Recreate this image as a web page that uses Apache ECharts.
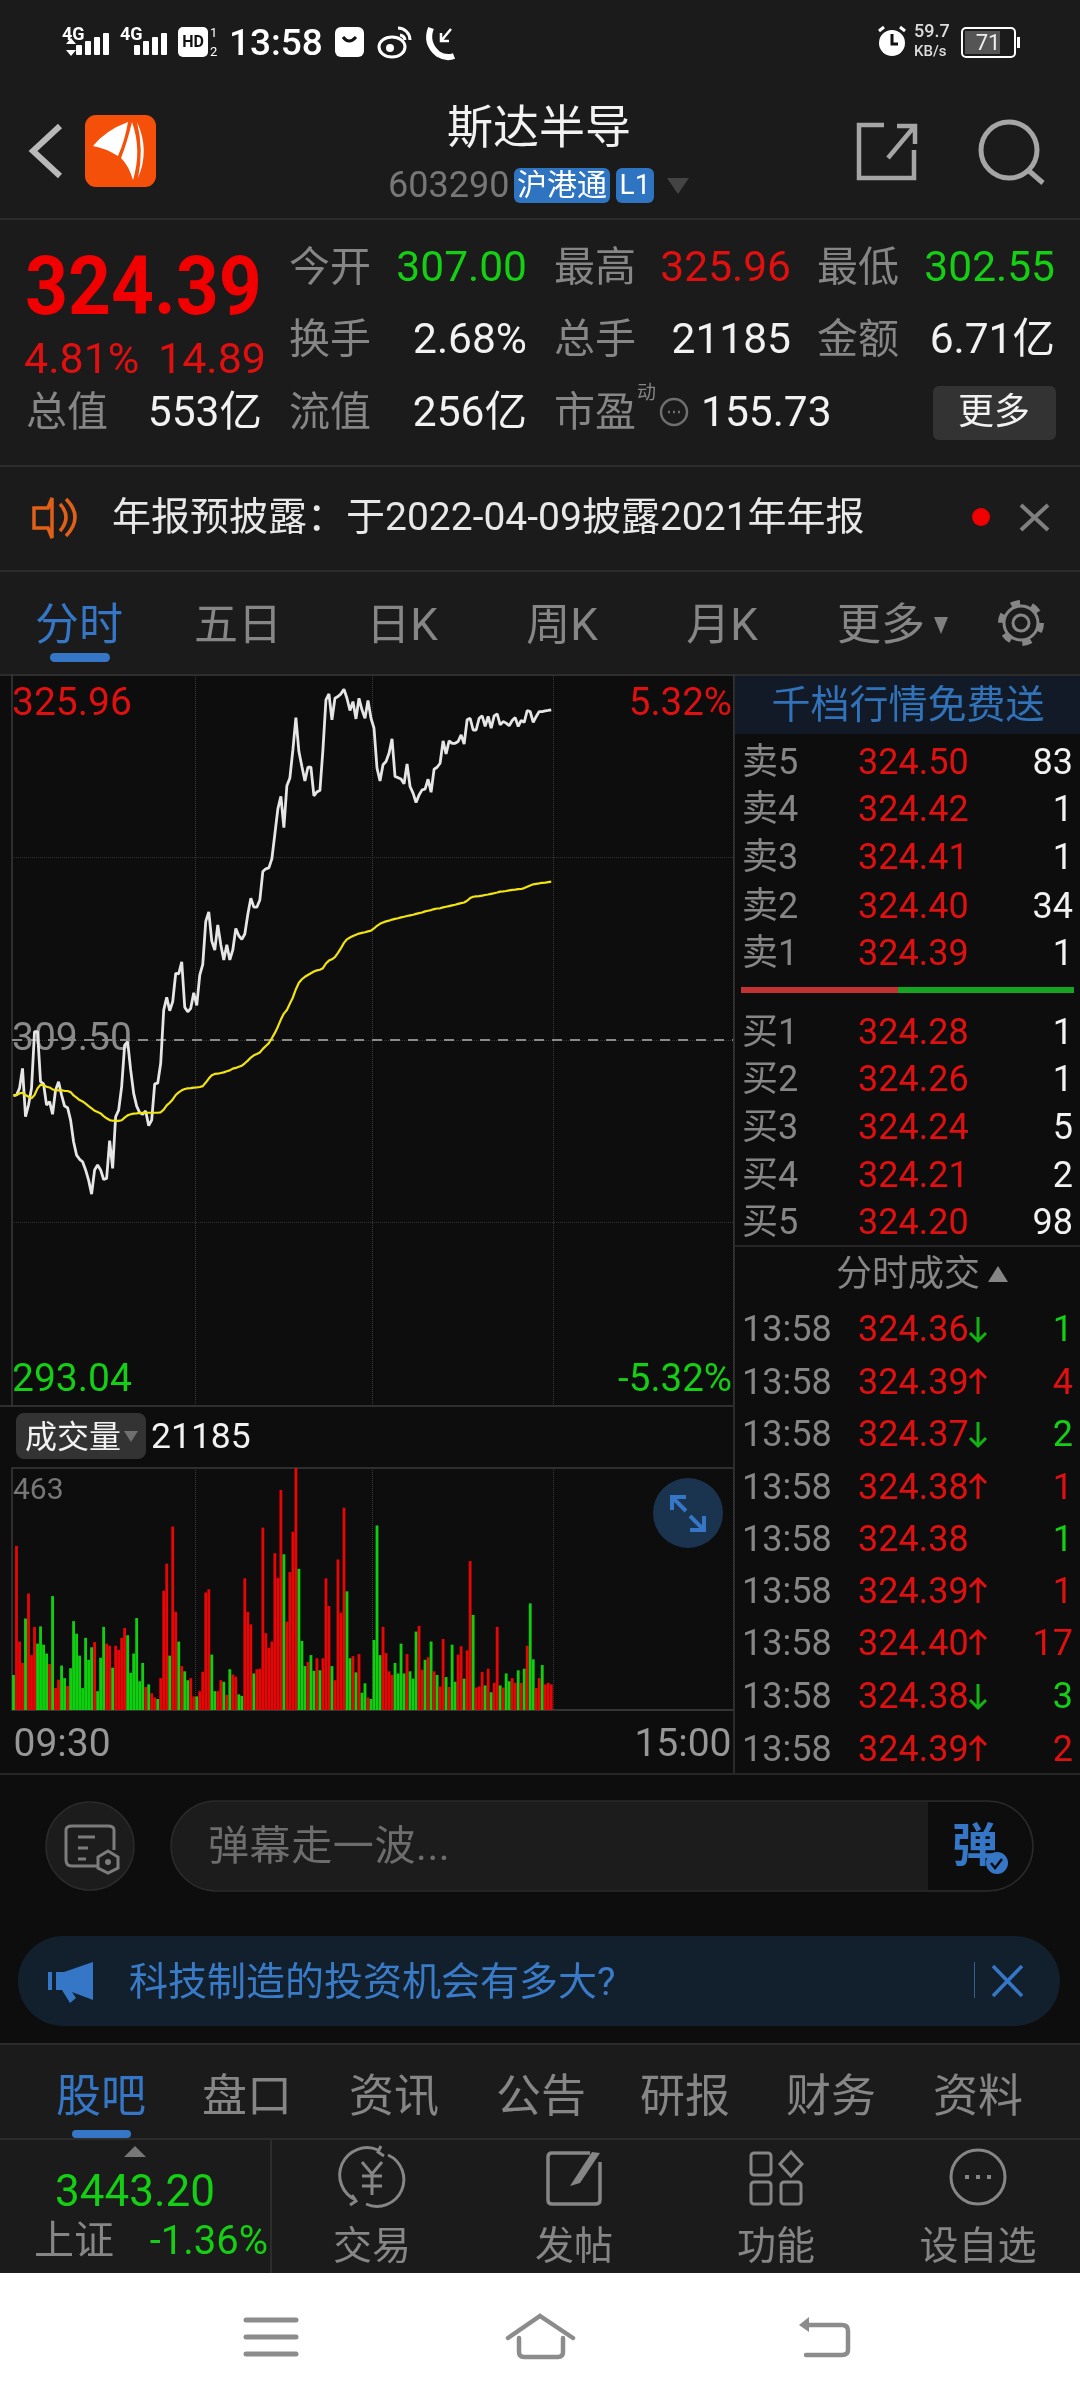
<!DOCTYPE html>
<html><head><meta charset="utf-8">
<script src="https://cdn.jsdelivr.net/npm/echarts@6/dist/echarts.min.js"></script>
<style>
html,body{margin:0;padding:0;background:#0d0d0d;}
#page{position:relative;width:1080px;height:2400px;overflow:hidden;background:#0d0d0d;font-family:Roboto,"Noto Sans CJK SC",sans-serif;}
.b{position:absolute;}
.t{position:absolute;white-space:nowrap;line-height:1;z-index:5;}
#chart{position:absolute;left:0;top:0;width:1080px;height:2400px;z-index:2;}
#ic{position:absolute;left:0;top:0;width:1080px;height:2400px;z-index:3;}
</style></head><body><div id="page">
<div id="chart"></div>
<svg id="ic" viewBox="0 0 1080 2400"></svg>
</div>
<script>
// ---- chart data ----
const priceAxisTicks = [293.04, 301.27, 309.50, 317.73, 325.96];
const priceLabels = [293.04, 309.50, 325.96];
const pctLabels = [-5.32, 5.32];
const prevClose = 309.50;
const volumeMax = 463;
const timeLabels = ['09:30', '15:00'];
const sessionMinutes = 240;

const price = [
306.99,307.02,307.32,308.22,306.04,306.57,307.32,309.88,309.88,307.62,
307.52,306.57,306.72,306.15,307.24,307.62,307.02,306.52,306.45,305.89,
304.91,304.31,304.12,304.01,303.64,303.18,302.55,303.64,303.86,303.64,
303.21,303.26,304.96,303.71,306.04,306.34,307.39,309.27,309.42,308.15,
307.09,306.52,306.22,306.15,306.30,305.64,305.89,307.52,307.55,308.45,
310.85,311.42,310.82,311.23,312.51,312.48,313.03,310.98,310.77,310.93,
311.63,311.06,312.43,312.91,314.85,315.28,313.96,313.56,314.69,313.80,
313.11,313.80,313.11,313.56,314.53,314.20,314.04,314.28,315.17,315.89,
315.49,315.49,315.81,317.10,317.22,317.26,317.67,318.79,319.92,320.49,
319.08,320.97,321.32,322.58,324.04,322.51,321.83,321.18,321.80,321.80,
320.51,320.69,320.75,322.58,324.84,325.11,323.94,324.91,324.99,325.11,
325.32,324.91,324.36,324.76,323.98,324.91,324.39,324.01,324.81,324.01,
323.56,321.76,321.18,321.91,322.06,322.43,323.08,321.38,321.33,321.27,
321.05,321.95,320.93,320.63,320.21,320.55,320.78,320.81,321.26,320.67,
321.71,321.80,321.98,322.99,322.40,322.99,322.88,322.88,322.96,323.26,
322.85,323.94,324.01,323.48,323.48,324.01,324.12,323.64,324.09,323.56,
324.12,324.21,323.71,323.86,323.79,323.67,323.91,324.04,323.64,323.91,
323.82,324.36,324.31,323.82,324.09,324.31,324.31,324.34,324.36,324.39];

const avgPrice = [
306.99,307.02,307.09,307.12,307.02,306.94,306.87,307.02,307.32,307.48,
307.47,307.39,307.36,307.27,307.24,307.23,307.23,307.21,307.20,307.15,
307.00,306.90,306.79,306.73,306.63,306.52,306.42,306.31,306.25,306.19,
306.07,305.97,305.89,305.86,305.85,305.85,305.88,306.00,306.10,306.15,
306.18,306.19,306.21,306.21,306.22,306.22,306.22,306.22,306.22,306.24,
306.36,306.55,306.67,306.82,307.02,307.14,307.23,307.29,307.32,307.33,
307.35,307.36,307.38,307.42,307.58,307.76,307.91,307.97,307.98,308.01,
308.04,308.09,308.13,308.21,308.24,308.29,308.34,308.45,308.57,308.71,
308.81,308.87,308.94,309.10,309.23,309.36,309.58,309.82,310.10,310.42,
310.69,310.85,311.14,311.42,311.79,312.08,312.24,312.35,312.43,312.51,
312.59,312.64,312.67,312.74,312.95,313.08,313.14,313.24,313.43,313.64,
313.88,314.04,314.12,314.19,314.25,314.30,314.33,314.36,314.40,314.43,
314.53,314.65,314.74,314.80,314.85,314.88,314.93,314.96,314.99,315.03,
315.06,315.09,315.12,315.15,315.19,315.22,315.25,315.30,315.33,315.36,
315.40,315.43,315.44,315.48,315.51,315.54,315.57,315.60,315.64,315.67,
315.70,315.78,315.90,315.96,315.98,315.99,316.01,316.04,316.06,316.09,
316.12,316.15,316.19,316.20,316.22,316.25,316.27,316.28,316.30,316.31,
316.35,316.41,316.47,316.52,316.54,316.56,316.59,316.60,316.62,316.64];

const volume = [
67,314,131,90,175,223,105,159,127,160,
125,108,88,218,42,58,85,61,46,80,
170,146,104,42,138,96,120,130,36,100,
159,127,123,81,123,115,138,157,143,71,
108,176,55,90,44,49,32,24,21,61,
228,280,104,351,188,131,84,74,57,61,
26,26,36,73,225,231,106,36,36,57,
54,29,78,68,64,30,27,252,188,164,
70,78,79,349,147,119,131,300,253,421,
298,169,264,341,463,270,132,84,92,105,
75,99,76,99,252,199,84,57,288,186,
387,227,99,103,72,107,33,51,24,21,
134,353,105,159,109,74,67,90,70,127,
70,107,74,60,150,161,77,96,101,131,
74,67,45,136,63,44,125,54,106,122,
60,114,285,182,43,45,73,47,79,34,
52,159,47,43,70,55,61,52,76,52,
79,123,204,97,42,61,86,49,52,49];

const volumeSide = [
'g','r','r','r','g','r','r','r','g','g',
'g','g','r','g','r','r','g','g','r','g',
'g','g','g','g','g','g','g','r','g','g',
'g','r','r','g','r','r','r','r','g','g',
'g','g','g','g','r','g','r','r','g','r',
'r','r','g','r','r','g','r','g','g','r',
'r','g','r','r','r','r','g','g','r','r',
'g','r','g','r','r','g','g','r','r','r',
'g','r','r','r','r','r','r','r','r','r',
'g','r','r','r','r','g','g','g','r','g',
'g','r','g','r','r','r','g','r','r','r',
'r','g','g','r','g','r','g','g','r','g',
'g','g','g','r','r','r','r','g','g','g',
'g','r','g','g','g','r','r','g','r','g',
'r','g','r','r','g','r','g','g','r','r',
'g','r','r','g','r','r','r','g','r','g',
'r','r','g','r','g','g','r','r','g','r',
'g','r','g','g','r','r','g','r','r','r'];

// ---- order book and tape ----
const askRows = [['卖5','324.50','83'],['卖4','324.42','1'],['卖3','324.41','1'],['卖2','324.40','34'],['卖1','324.39','1']];
const bidRows = [['买1','324.28','1'],['买2','324.26','1'],['买3','324.24','5'],['买4','324.21','2'],['买5','324.20','98']];
const tapeRows = [['324.36','d','1','g'],['324.39','u','4','r'],['324.37','d','2','g'],['324.38','u','1','r'],['324.38','','1','g'],['324.39','u','1','r'],['324.40','u','17','r'],['324.38','d','3','g'],['324.39','u','2','r']];

const RED='#e01010', GREEN='#14cf14', GREY='#868686', WHITE='#f2f2f2', BLUE='#3577c6';
const page=document.getElementById('page');
function box(x,y,w,h,bg,r,z){const d=document.createElement('div');d.className='b';d.style.cssText=`left:${x}px;top:${y}px;width:${w}px;height:${h}px;background:${bg};border-radius:${r||0}px;z-index:${z||1}`;page.appendChild(d);}
function txt(x,y,s,size,color,anchor,extra){const d=document.createElement('div');d.className='t';d.textContent=s;
 let st=`top:${y}px;font-size:${size}px;color:${color};`;
 if(anchor==='r')st+=`right:${1080-x}px;transform:translateY(-50%);`;
 else if(anchor==='c')st+=`left:${x}px;transform:translate(-50%,-50%);`;
 else st+=`left:${x}px;transform:translateY(-50%);`;
 d.style.cssText=st+(extra||'');page.appendChild(d);}

// backgrounds
box(0,0,1080,674,'#1b1b1b');
box(0,2043,1080,230,'#1b1b1b');
box(0,2273,1080,127,'#ffffff');
box(735,675,345,59,'#111a26');
[218,465,570,674].forEach(y=>box(0,y,1080,2,'#2c2c2c'));
[2043,2138].forEach(y=>box(0,y,1080,2,'#2c2c2c'));
box(0,1773,1080,2,'#262626');
box(733,675,2,1098,'#2a2a2a');
box(0,1405,733,2,'#2e2e2e');
box(735,1245,345,2,'#262626');
box(270,2138,2,135,'#2c2c2c');
box(16,1413,130,46,'#333333',8);
box(933,386,123,54,'#333333',6);
box(514,168,96,35,'#2f74c0',6);
box(616,168,38,35,'#2f74c0',6);
box(50,653,60,9,BLUE,5);
box(72,2130,59,8,BLUE,4);
box(741,987,157,6,'#c23232');
box(898,987,176,6,'#16a520');
box(18,1936,1042,90,'#12202e',45);
box(974,1962,1,36,'#33628f');

// status bar
txt(229,42,'13:58',37,'#fff','l','font-weight:500;');
txt(62,34,'4G',18,'#fff','l','font-weight:700;');
txt(120,34,'4G',18,'#fff','l','font-weight:700;');
txt(914,31,'59.7',18,'#ddd','l','font-weight:500;');
txt(914,51,'KB/s',15,'#ddd','l','font-weight:500;');
txt(988,43,'71',22,'#eee','c');
// header
txt(539,127,'斯达半导',46,'#f2f2f2','c');
txt(388,185,'603290',36,'#777','l');
txt(562,185,'沪港通',30,'#fff','c');
txt(635,185,'L1',28,'#fff','c');
// quote
txt(25,286,'324.39',75,'#f00000','l','font-weight:700;transform:translateY(-50%) scaleY(1.08);');
txt(24,358,'4.81%',43,RED,'l');txt(158,358,'14.89',43,RED,'l');
const cols=[289,554,817],rightCols=[527,791,1055];
[['今开','307.00',GREEN],['最高','325.96',RED],['最低','302.55',GREEN]].forEach((c,i)=>{txt(cols[i],267,c[0],41,GREY);txt(rightCols[i],267,c[1],42.5,c[2],'r');});
[['换手','2.68%',WHITE],['总手','21185',WHITE],['金额','6.71亿',WHITE]].forEach((c,i)=>{txt(cols[i],339,c[0],41,GREY);txt(rightCols[i],339,c[1],42.5,c[2],'r');});
txt(26,412,'总值',41,GREY);txt(262,412,'553亿',42.5,WHITE,'r');
txt(289,412,'流值',41,GREY);txt(527,412,'256亿',42.5,WHITE,'r');
txt(554,412,'市盈',41,GREY);txt(637,392,'动',19,GREY);txt(701,412,'155.73',42.5,WHITE);
txt(994,412,'更多',36,WHITE,'c');
// notice
txt(112,517,'年报预披露：于2022-04-09披露2021年年报',39,'#e8e8e8');
// tabs
[['分时',79,BLUE],['五日',238,GREY],['日K',402,GREY],['周K',562,GREY],['月K',722,GREY],['更多',881,GREY]].forEach(c=>txt(c[1],625,c[0],44,c[2],'c'));
// order book
txt(908,705,'千档行情免费送',39,'#3272b8','c');
const askY=[762,809,857,906,953],bidY=[1032,1079,1127,1175,1222];
function bookRow(r,y){txt(742,y,r[0],36,GREY);txt(858,y,r[1],36,RED);txt(1073,y,r[2],36,WHITE,'r');}
askRows.forEach((r,i)=>bookRow(r,askY[i]));
bidRows.forEach((r,i)=>bookRow(r,bidY[i]));
txt(908,1274,'分时成交',36,GREY,'c');
const tapeY=[1329,1382,1434,1487,1539,1591,1643,1696,1749];
tapeRows.forEach((r,i)=>{txt(742,tapeY[i],'13:58',36,GREY);txt(858,tapeY[i],r[0],36,RED);txt(1073,tapeY[i],r[2],36,r[3]==='r'?RED:GREEN,'r');});
// volume header
txt(25,1437,'成交量',32,'#f2f2f2');
txt(151,1437,'21185',35.5,'#f2f2f2');
// danmu, banner
txt(208,1846,'弹幕走一波...',41,'#6d6d6d','l','letter-spacing:0.6px;');
txt(975,1845,'弹',46,BLUE,'c','font-weight:700;');
txt(129,1982,'科技制造的投资机会有多大?',39,'#3a7bc8');
// bottom tabs
[['股吧',101,BLUE],['盘口',247,GREY],['资讯',394,GREY],['公告',541,GREY],['研报',685,GREY],['财务',831,GREY],['资料',978,GREY]].forEach(c=>txt(c[1],2096,c[0],45,c[2],'c'));
txt(135,2191,'3443.20',44,GREEN,'c');
txt(34,2241,'上证',40,GREY);
txt(268,2241,'-1.36%',40,GREEN,'r');
[['交易',372],['发帖',574],['功能',776],['设自选',978]].forEach(c=>txt(c[1],2246,c[0],39,GREY,'c'));

// icons
const bars=(x,y)=>[10,14,18,22].map((h,i)=>`<rect x="${x+i*9}" y="${y-h}" width="6" height="${h}" rx="1" fill="#fff"/>`).join('');
const arrows=tapeRows.map((r,i)=>{const y=tapeY[i],x=978;
 if(r[1]==='u')return `<path d="M${x} ${y+12}V${y-12}M${x-8} ${y-4}L${x} ${y-12}L${x+8} ${y-4}" stroke="${RED}" stroke-width="3" fill="none"/>`;
 if(r[1]==='d')return `<path d="M${x} ${y-12}V${y+12}M${x-8} ${y+4}L${x} ${y+12}L${x+8} ${y+4}" stroke="#12b312" stroke-width="3" fill="none"/>`;
 return '';}).join('');
document.getElementById('ic').innerHTML=`
${bars(76,55)}${bars(134,55)}
<path d="M66 44l5-6 5 6zM66 50l5 6 5-6z" fill="#fff"/>
<rect x="178" y="27" width="30" height="30" rx="5" fill="#fff"/><text x="193" y="47" font-size="16" font-weight="700" text-anchor="middle" fill="#111" font-family="Roboto">HD</text>
<text x="210" y="37" font-size="13" fill="#fff" font-family="Roboto">1</text><text x="210" y="56" font-size="13" fill="#fff" font-family="Roboto">2</text>
<rect x="335" y="27" width="29" height="30" rx="6" fill="#fff"/><path d="M343 37q6 8 13 0" stroke="#111" stroke-width="3" fill="none"/>
<ellipse cx="392" cy="47" rx="13" ry="10" fill="none" stroke="#fff" stroke-width="3"/><circle cx="390" cy="48" r="4" fill="#fff"/><path d="M398 28a12 12 0 0 1 12 12M400 35a6 6 0 0 1 5 5" stroke="#fff" stroke-width="3" fill="none"/>
<path d="M431 28Q425 43 438 54Q446 59 454 56" stroke="#fff" stroke-width="6" fill="none"/><path d="M451 29L441 41M441 33V41H449" stroke="#fff" stroke-width="2.5" fill="none"/>
<circle cx="892" cy="43" r="13" fill="#fff"/><path d="M892 34v10h6" stroke="#111" stroke-width="3" fill="none"/><path d="M879 31l5-4M905 31l-5-4" stroke="#fff" stroke-width="3"/>
<rect x="962" y="28" width="53" height="29" rx="4" fill="none" stroke="#fff" stroke-width="2"/><rect x="965" y="31" width="35" height="23" fill="#555"/><rect x="1017" y="37" width="3" height="11" fill="#fff"/>
<path d="M60 126L33 151L60 176" stroke="#b9b9b9" stroke-width="6" fill="none"/>
<rect x="85" y="115" width="71" height="72" rx="11" fill="#f5500a"/>
<path d="M93 146Q106 130 128 122Q125 140 118 156Q105 148 93 146ZM132 122Q127 143 121 158Q129 166 133 180Q142 150 132 122ZM137 122Q150 150 138 178Q144 150 137 122Z" fill="#fff"/>
<path d="M884 125H859V178H914V150M888 158L914 127M897 126H915V144" stroke="#a5a5a5" stroke-width="4.5" fill="none"/>
<circle cx="1009" cy="150" r="28" stroke="#a5a5a5" stroke-width="5" fill="none"/><path d="M1028 170L1043 183" stroke="#a5a5a5" stroke-width="5"/>
<path d="M667 178H689L678 194Z" fill="#444"/>
<circle cx="674" cy="412" r="13" fill="none" stroke="#6f6f6f" stroke-width="2.5"/><path d="M668 412h2M673 412h2M678 412h2" stroke="#6f6f6f" stroke-width="2.5"/>
<path d="M48 508H34V528H48L52 538V498Z M60 504Q72 517 60 531M66 499Q84 517 66 536" stroke="#e0601a" stroke-width="3.5" fill="none"/>
<circle cx="981" cy="517" r="9" fill="#f00000"/>
<path d="M1021 505L1048 530M1048 505L1021 530" stroke="#808080" stroke-width="4"/>
<path d="M934 617H948L941 634Z" fill="#808080"/>
<circle cx="1021" cy="623" r="8" stroke="#868686" stroke-width="3" fill="none"/><circle cx="1021" cy="623" r="17" stroke="#868686" stroke-width="3" fill="none"/><circle cx="1021" cy="623" r="20" stroke="#868686" stroke-width="6" fill="none" stroke-dasharray="9 11.9"/>
<path d="M988 1282L998 1266L1008 1282Z" fill="#868686"/>
<path d="M124 1431H138L131 1442Z" fill="#707070"/>
<circle cx="688" cy="1513" r="35" fill="#1a334f"/>
<path d="M672 1510V1497H686M672 1497L686 1511M704 1516V1530H690M704 1530L690 1516" stroke="#3577c6" stroke-width="4" fill="none"/>
<circle cx="90" cy="1846" r="44" fill="#1c1c1c" stroke="#2a2a2a" stroke-width="1.5"/>
<path d="M102 1866H72Q66 1866 66 1860V1830Q66 1826 72 1826H108Q114 1826 114 1830V1850M78 1837H95M78 1848H88M78 1859H86" stroke="#7c7c7c" stroke-width="3" fill="none"/>
<path d="M108 1851L118 1857V1868L108 1873L98 1868V1857Z" stroke="#7c7c7c" stroke-width="3" fill="#1c1c1c"/><circle cx="108" cy="1862" r="3" fill="#7c7c7c"/>
<rect x="171" y="1801" width="862" height="90" rx="45" fill="#1c1c1c" stroke="#2a2a2a" stroke-width="1.5"/>
<path d="M928 1802H988a44 44 0 0 1 0 88H928Z" fill="#0d0d0d"/>
<circle cx="997" cy="1863" r="11" fill="${BLUE}"/><path d="M991 1863l4 5 7-9" stroke="#0d0d0d" stroke-width="2.5" fill="none"/>
<path d="M93 1962L64 1972H56V1990H62L70 2003L76 1998L72 1992L93 2000ZM48 1972H52V1990H48Z" fill="${BLUE}"/>
<path d="M993 1966L1022 1996M1022 1966L993 1996" stroke="${BLUE}" stroke-width="3.5"/>
<path d="M124 2157L135 2146L146 2157Z" fill="#777"/>
<path d="M378 2150A26 26 0 0 0 356 2200M366 2204A26 26 0 0 0 388 2155M381 2146L378 2152L384 2156M352 2195L356 2201L350 2205" stroke="#868686" stroke-width="3" fill="none"/>
<path d="M362 2162L372 2174L382 2162M362 2176H382M362 2186H382M372 2174V2195" stroke="#868686" stroke-width="3" fill="none"/>
<path d="M590 2153H552Q548 2153 548 2157V2200Q548 2204 552 2204H595Q600 2204 600 2200V2162" stroke="#868686" stroke-width="3.5" fill="none"/>
<path d="M570 2186L592 2152L600 2153L580 2183Z" fill="#868686"/>
<rect x="751" y="2153" width="20" height="22" rx="3" stroke="#868686" stroke-width="3" fill="none"/><rect x="751" y="2182" width="20" height="22" rx="3" stroke="#868686" stroke-width="3" fill="none"/><rect x="781" y="2182" width="20" height="22" rx="3" stroke="#868686" stroke-width="3" fill="none"/>
<path d="M791 2152L802 2164L791 2176L780 2164Z" stroke="#868686" stroke-width="3" fill="none"/>
<circle cx="978" cy="2177" r="27" stroke="#868686" stroke-width="3" fill="none"/><path d="M965 2177h4M976 2177h4M987 2177h4" stroke="#868686" stroke-width="4"/>
<path d="M246 2320H296M246 2337H296M246 2354H296" stroke="#8c8c8c" stroke-width="5" stroke-linecap="round"/>
<path d="M508 2338L540 2316L573 2338M519 2338V2352Q519 2357 524 2357H558Q563 2357 563 2352V2338" stroke="#8c8c8c" stroke-width="4.5" fill="none" stroke-linecap="round"/>
<path d="M808 2325H842Q848 2325 848 2331V2350Q848 2355 842 2355H806" stroke="#8c8c8c" stroke-width="4.5" fill="none" stroke-linecap="round"/><path d="M809 2317V2332L799 2325Z" fill="#8c8c8c"/>
${arrows}`;

// ---- the chart ----
const cats=Array.from({length:sessionMinutes},(_,i)=>i);
const volData=volume.map((v,i)=>({value:v,itemStyle:{color:volumeSide[i]==='r'?'#e80505':'#0fd00f'}}));
const numFont='Roboto';
const chart=echarts.init(document.getElementById('chart'),null,{renderer:'canvas'});
const gridLines={show:true,interval:i=>i===61||i===120||i===180,lineStyle:{color:'#3a3a3a',type:'dotted',width:1}};
chart.setOption({
 animation:false,backgroundColor:'transparent',
 grid:[{left:12,right:347,top:675,height:730},{left:12,right:347,top:1468,height:242}],
 xAxis:[
  {type:'category',gridIndex:0,data:cats,boundaryGap:true,axisLine:{show:false},axisTick:{show:false},axisLabel:{show:false},splitLine:gridLines},
  {type:'category',gridIndex:1,data:cats,boundaryGap:true,axisLine:{show:true,lineStyle:{color:'#3a3a3a',width:1.5}},axisTick:{show:false},splitLine:gridLines,
   axisLabel:{show:true,interval:i=>i===0||i===sessionMinutes-1,formatter:(v,i)=>i===0?timeLabels[0]:timeLabels[1],color:'#979797',fontSize:39,fontFamily:numFont,margin:17,alignMinLabel:'left',alignMaxLabel:'right'}}
 ],
 yAxis:[
  {type:'value',gridIndex:0,position:'left',min:priceAxisTicks[0],max:priceAxisTicks[4],
   axisLine:{show:true,lineStyle:{color:'#3a3a3a',width:1.5}},axisTick:{show:false,customValues:priceAxisTicks},
   splitLine:{show:true,lineStyle:{color:'#333',type:'dotted',width:1}},
   axisLabel:{show:true,inside:true,customValues:priceLabels,margin:0,fontSize:39,fontFamily:numFont,lineHeight:48,padding:[6,0,0,0],verticalAlignMaxLabel:'top',verticalAlignMinLabel:'bottom',
    formatter:v=>Number(v).toFixed(2),color:v=>{v=+v;return v>prevClose?RED:v<prevClose?GREEN:'#8a8a8a';}}},
  {type:'value',gridIndex:0,position:'right',min:pctLabels[0],max:pctLabels[1],
   axisLine:{show:false},axisTick:{show:false,customValues:pctLabels},splitLine:{show:false},
   axisLabel:{show:true,inside:true,customValues:pctLabels,margin:1,fontSize:38.5,fontFamily:numFont,lineHeight:48,padding:[6,0,0,0],verticalAlignMaxLabel:'top',verticalAlignMinLabel:'bottom',
    formatter:v=>Number(v).toFixed(2)+'%',color:v=>(+v>0?RED:GREEN)}},
  {type:'value',gridIndex:1,min:0,max:volumeMax,
   axisLine:{show:true,lineStyle:{color:'#3a3a3a',width:1.5}},axisTick:{show:false,customValues:[0,volumeMax]},
   splitLine:{show:true,lineStyle:{color:'#3a3a3a',width:1.5}},
   axisLabel:{show:true,inside:true,customValues:[volumeMax],margin:1,fontSize:30,fontFamily:numFont,color:'#777',lineHeight:46,verticalAlignMinLabel:'top',verticalAlignMaxLabel:'top',formatter:v=>String(v)}}
 ],
 series:[
  {name:'price',type:'line',xAxisIndex:0,yAxisIndex:0,data:price,symbol:'none',lineStyle:{color:'#e6e6e6',width:2.8},z:3,
   markLine:{silent:true,symbol:'none',label:{show:false},lineStyle:{color:'#8a8a8a',type:[10,8],width:2},data:[{yAxis:prevClose}],z:1}},
  {name:'avg',type:'line',xAxisIndex:0,yAxisIndex:0,data:avgPrice,symbol:'none',lineStyle:{color:'#f2e40e',width:2.2},z:4},
  {name:'volume',type:'bar',xAxisIndex:1,yAxisIndex:2,data:volData,barWidth:2.85,z:3}
 ]
});
</script></body></html>
